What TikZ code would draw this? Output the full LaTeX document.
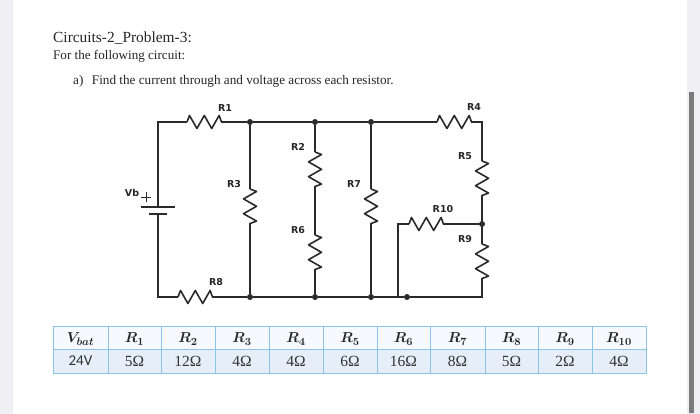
\documentclass[tikz,border=0pt]{standalone}
\usepackage{fontspec}
\setmainfont{Liberation Serif}
\newfontfamily\labelfont{DejaVu Sans}
\newfontfamily\calfont{Carlito}
\definecolor{tabline}{HTML}{8CC4E4}
\definecolor{headfill}{HTML}{F6F9FD}
\definecolor{rowfill}{HTML}{E6EFF9}
\definecolor{wirec}{HTML}{2A2A2A}
\definecolor{stripc}{HTML}{EFEFF4}
\tikzset{
  x=1pt,y=-1pt,
  wire/.style={line width=1.5pt,draw=wirec,line join=miter},
  resistor/.style={line width=1.6pt,draw=wirec,line join=round},
  dot/.style={circle,fill=wirec,inner sep=0pt,minimum size=6pt},
  rlabel/.style={font=\labelfont\bfseries\fontsize{9.5}{10}\selectfont,text=black!85,inner sep=0pt},
  ptext/.style={anchor=base west,inner sep=0pt,text=black!85},
  hcell/.style={font=\fontsize{15}{17}\selectfont,inner sep=0pt,text=black!85},
  vcell/.style={font=\fontsize{15.5}{17}\selectfont,inner sep=0pt,text=black!80},
  tline/.style={draw=tabline,line width=1pt}
}
\newcommand{\hres}[2]{\draw[resistor] (#1,#2) -- ++(2.5,-6.5) -- ++(7.4,13) -- ++(7.4,-13) -- ++(7.4,13) -- ++(7.4,-13) -- ++(2.4,6.5);}
\newcommand{\vres}[2]{\draw[resistor] (#1,#2) -- ++(6.5,2.5) -- ++(-13,7.4) -- ++(13,7.4) -- ++(-13,7.4) -- ++(13,7.4) -- ++(-6.5,2.4);}
\newcommand{\tabcol}[5]{%
  \node[hcell] (h#1) at (#2,339) {{\boldmath$#3$}};
  \node[vcell] (v#1) at (#2,361) {#4#5};}
\begin{document}
\begin{tikzpicture}
\useasboundingbox (0,0) rectangle (700,414);
\fill[white] (0,0) rectangle (700,414);
\fill[stripc] (0,0) rectangle (13,414);
\fill[stripc] (687,0) rectangle (700,414);
\fill[black!52] (689,92) rectangle (694,413);
% text
\node[ptext,font=\fontsize{15.4}{17}\selectfont] (title) at (53,43) {Circuits-2\_Problem-3:};
\node[ptext,font=\fontsize{13.1}{15}\selectfont] (intro) at (53,60) {For the following circuit:};
\node[ptext,font=\fontsize{13.2}{15}\selectfont] (itema) at (73,85) {a)\hspace{8.5pt}Find the current through and voltage across each resistor.};
% junctions
\coordinate (tl) at (158,122); \coordinate (bl) at (158,297);
\node[dot] (n1) at (250,122) {}; \node[dot] (n2) at (315,122) {}; \node[dot] (n3) at (371,122) {};
\node[dot] (m1) at (250,297) {}; \node[dot] (m2) at (315,297) {}; \node[dot] (m3) at (371,297) {}; \node[dot] (m4) at (407,297) {};
\node[dot] (j) at (482,224) {};
\coordinate (tr) at (482,122); \coordinate (br) at (482,297);
\coordinate (lk) at (398,224); \coordinate (lb) at (398,297);
\coordinate (bp) at (158,207); \coordinate (bs) at (158,214);
% wires
\draw[wire] (bp) -- (tl) -- (187,122);
\hres{187}{122}
\draw[wire] (221,122) -- (n1) -- (n2) -- (n3) -- (437,122);
\hres{437}{122}
\draw[wire] (471,122) -- (tr) -- (482,161);
\vres{482}{161}
\draw[wire] (482,195) -- (j) -- (482,244);
\vres{482}{244}
\draw[wire] (482,278) -- (br) -- (m4) -- (m3) -- (m2) -- (m1) -- (212,297);
\hres{178}{297}
\draw[wire] (178,297) -- (bl) -- (bs);
\draw[wire] (n1) -- (250,189); \vres{250}{189} \draw[wire] (250,223) -- (m1);
\draw[wire] (n2) -- (315,152); \vres{315}{152} \draw[wire] (315,186) -- (315,235); \vres{315}{235} \draw[wire] (315,269) -- (m2);
\draw[wire] (n3) -- (371,189); \vres{371}{189} \draw[wire] (371,223) -- (m3);
\draw[wire] (j) -- (443,224);
\hres{409}{224}
\draw[wire] (409,224) -- (lk) -- (lb);
% battery
\draw[wire] (141,207) -- (175,207);
\draw[wire] (149,214) -- (167,214);
\draw[line width=1pt,draw=wirec] (141,197) -- (151,197) (146,192) -- (146,202);
% labels
\node[rlabel] (lR1) at (225,108) {R1};
\node[rlabel] (lR2) at (298,147) {R2};
\node[rlabel] (lR3) at (234,184) {R3};
\node[rlabel] (lR4) at (474,107) {R4};
\node[rlabel] (lR5) at (465,156) {R5};
\node[rlabel] (lR6) at (298,230) {R6};
\node[rlabel] (lR7) at (354,184) {R7};
\node[rlabel] (lR8) at (216,282) {R8};
\node[rlabel] (lR9) at (465,239) {R9};
\node[rlabel] (lR10) at (443,209) {R10};
\node[rlabel] (lVb) at (132,193) {Vb};
% table
\fill[headfill] (53,326) rectangle (646,349);
\fill[rowfill] (53,349) rectangle (646,373);
\draw[tline] (53,326) rectangle (646,373);
\draw[tline] (53,349) -- (646,349);
\foreach \xpos in {108,161,215,269,323,377,430,485,538,592} \draw[tline] (\xpos,326) -- (\xpos,373);
\tabcol{0}{80.5}{V_{bat}}{\calfont\fontsize{15}{17}\selectfont 24V}{}
\tabcol{1}{134.5}{R_{1}}{5}{Ω}
\tabcol{2}{188}{R_{2}}{12}{Ω}
\tabcol{3}{242}{R_{3}}{4}{Ω}
\tabcol{4}{296}{R_{4}}{4}{Ω}
\tabcol{5}{350}{R_{5}}{6}{Ω}
\tabcol{6}{403.5}{R_{6}}{16}{Ω}
\tabcol{7}{457.5}{R_{7}}{8}{Ω}
\tabcol{8}{511.5}{R_{8}}{5}{Ω}
\tabcol{9}{565}{R_{9}}{2}{Ω}
\tabcol{10}{619}{R_{10}}{4}{Ω}
\end{tikzpicture}
\end{document}
